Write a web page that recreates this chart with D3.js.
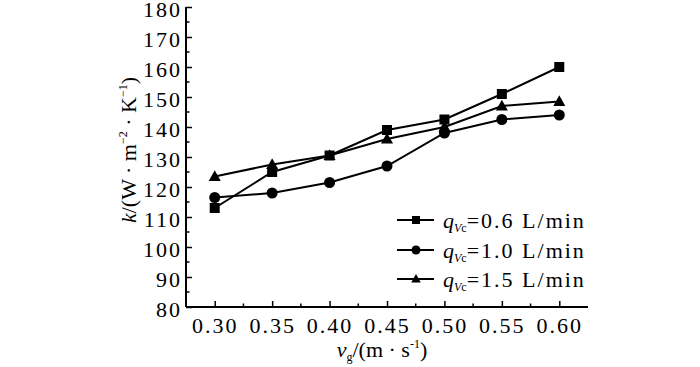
<!DOCTYPE html>
<html>
<head>
<meta charset="utf-8">
<script src="https://cdn.jsdelivr.net/npm/d3@7"></script>
<style>
  body { margin: 0; background: #fff; }
  text { font-family: "Liberation Serif", "Times New Roman", serif; fill: #000; }
</style>
</head>
<body>
<div id="my_dataviz"></div>
<script>
// data
var vg = [0.30, 0.35, 0.40, 0.45, 0.50, 0.55, 0.60]
var k06 = [113, 125, 130.5, 139, 142.5, 151, 160]
var k10 = [116.5, 118, 121.5, 127, 138, 142.5, 144]
var k15 = [123.5, 127.5, 130.5, 136, 140, 147, 148.5]
var seriesNames = ["=0.6 L/min", "=1.0 L/min", "=1.5 L/min"]
var seriesShapes = ["square", "circle", "triangle"]
var xTicks = [0.30, 0.35, 0.40, 0.45, 0.50, 0.55, 0.60]
var yTicks = [80, 90, 100, 110, 120, 130, 140, 150, 160, 170, 180]

var width = 700,
    height = 367

var svg = d3.select("#my_dataviz")
  .append("svg")
    .attr("width", width)
    .attr("height", height)

var x = d3.scaleLinear().domain([0.275, 0.625]).range([186, 588])
var y = d3.scaleLinear().domain([80, 180]).range([307, 7])

// minor ticks halfway between the major ones
var xMinor = xTicks.slice(0, -1).map(function(d) { return d + 0.025 })
var yMinor = yTicks.slice(0, -1).map(function(d) { return d + 5 })

// x axis (ticks point inward)
var gx = svg.append("g").attr("transform", "translate(0," + y(80) + ")")
gx.call(d3.axisBottom(x).tickValues(xTicks).tickSize(-6).tickPadding(10)
    .tickFormat(d3.format(".2f")))
gx.append("g").selectAll("line").data(xMinor)
  .enter().append("line")
    .attr("x1", function(d) { return x(d) }).attr("x2", function(d) { return x(d) })
    .attr("y1", 0).attr("y2", -3.5)
    .attr("stroke", "#000").attr("stroke-width", 1.5)

// y axis
var gy = svg.append("g").attr("transform", "translate(" + x(0.275) + ",0)")
gy.call(d3.axisLeft(y).tickValues(yTicks).tickSize(-6).tickPadding(4))
gy.append("g").selectAll("line").data(yMinor)
  .enter().append("line")
    .attr("y1", function(d) { return y(d) }).attr("y2", function(d) { return y(d) })
    .attr("x1", 0).attr("x2", 3.5)
    .attr("stroke", "#000").attr("stroke-width", 1.5)

svg.selectAll(".domain").attr("stroke", "#000").attr("stroke-width", 2)
svg.selectAll(".tick line").attr("stroke", "#000").attr("stroke-width", 1.5)
svg.selectAll(".tick text")
  .style("font-family", '"Liberation Serif", serif')
  .style("font-size", "22px")
  .style("letter-spacing", "2px")
  .attr("fill", "#000")
gx.selectAll(".tick text").attr("dy", "0.71em")
gy.selectAll(".tick text").attr("dy", "0.45em")
// domain lines without end caps
gx.select(".domain").attr("d", "M" + x(0.275) + ",0H" + x(0.625))
gy.select(".domain").attr("d", "M0," + y(80) + "V" + y(180))

// markers
function drawMarker(g, shape, cx, cy, s) {
  if (shape === "square") {
    g.append("rect").attr("x", cx - s / 2).attr("y", cy - s / 2)
      .attr("width", s).attr("height", s).attr("fill", "#000")
  } else if (shape === "circle") {
    g.append("circle").attr("cx", cx).attr("cy", cy).attr("r", s / 2 + 0.5).attr("fill", "#000")
  } else {
    g.append("path")
      .attr("d", "M" + cx + "," + (cy - s * 0.62) + "L" + (cx + s * 0.6) + "," + (cy + s * 0.45) +
        "L" + (cx - s * 0.6) + "," + (cy + s * 0.45) + "Z")
      .attr("fill", "#000")
  }
}

var allSeries = [k06, k10, k15]
var line = d3.line()
  .x(function(d, i) { return x(vg[i]) })
  .y(function(d) { return y(d) })

allSeries.forEach(function(s, si) {
  svg.append("path")
    .datum(s)
    .attr("d", line)
    .attr("fill", "none")
    .attr("stroke", "#000")
    .attr("stroke-width", 2)
  var g = svg.append("g")
  s.forEach(function(v, i) {
    drawMarker(g, seriesShapes[si], x(vg[i]), y(v), 10)
  })
})

// legend
var legY = [220, 250, 279]
seriesNames.forEach(function(name, i) {
  var g = svg.append("g").attr("transform", "translate(397," + legY[i] + ")")
  g.append("line").attr("x1", 0).attr("x2", 37).attr("y1", 0).attr("y2", 0)
    .attr("stroke", "#000").attr("stroke-width", 2)
  drawMarker(g, seriesShapes[i], 19, 0, 8)
  var t = g.append("text").attr("x", 46).attr("y", 8).style("font-size", "22px")
  t.append("tspan").style("font-style", "italic").text("q")
  t.append("tspan").attr("dy", 4).style("font-size", "12px").style("font-style", "italic").text("V")
  t.append("tspan").style("font-size", "12px").text("c")
  t.append("tspan").attr("dy", -4).style("letter-spacing", "2px").text(name)
})

// axis titles
var xt = svg.append("text")
  .attr("x", 382).attr("y", 357)
  .attr("text-anchor", "middle")
  .style("font-size", "22px")
xt.append("tspan").style("font-style", "italic").text("v")
xt.append("tspan").attr("dy", 4).style("font-size", "12px").text("g")
xt.append("tspan").attr("dy", -4).text("/(m · s")
xt.append("tspan").attr("dy", -9).style("font-size", "12px").text("-1")
xt.append("tspan").attr("dy", 9).text(")")

var yt = svg.append("text")
  .attr("transform", "translate(136,150) rotate(-90)")
  .attr("text-anchor", "middle")
  .style("font-size", "22px")
yt.append("tspan").style("font-style", "italic").text("k")
yt.append("tspan").text("/(W · m")
yt.append("tspan").attr("dy", -9).style("font-size", "12px").text("−2")
yt.append("tspan").attr("dy", 9).text(" · K")
yt.append("tspan").attr("dy", -9).style("font-size", "12px").text("−1")
yt.append("tspan").attr("dy", 9).text(")")
</script>
</body>
</html>
